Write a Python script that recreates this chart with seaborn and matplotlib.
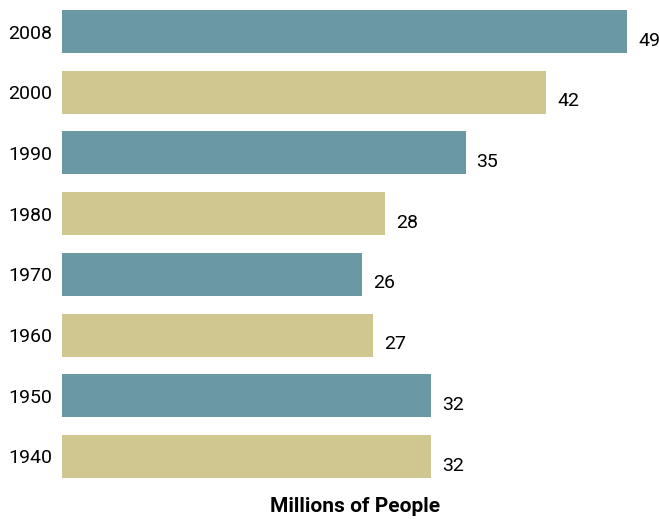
import matplotlib.pyplot as plt
import seaborn as sns
import pandas as pd

# Chart data, top to bottom.
years = ["2008", "2000", "1990", "1980", "1970", "1960", "1950", "1940"]
millions = [49, 42, 35, 28, 26, 27, 32, 32]
bar_colors = ["#6a98a3", "#cfc690"] * 4

sns.set_style("white")
plt.rcParams['font.family'] = ['Roboto', 'DejaVu Sans']

df = pd.DataFrame({"year": years, "millions": millions})

fig = plt.figure(figsize=(6.59, 5.19), dpi=100)
ax = fig.add_axes([62 / 659, 1 - 478 / 519, (627 - 62) / 659, 468 / 519])

sns.barplot(data=df, x="millions", y="year", hue="year", order=years,
            hue_order=years, palette=bar_colors, legend=False,
            width=0.71, saturation=1, linewidth=0, ax=ax)

ax.set_xlim(0, 49)
ax.set_ylim(len(years) - 1 + 0.355, -0.355)

# Value labels to the right of each bar.
for i, v in enumerate(millions):
    ax.text(v + 0.95, i + 0.15, str(v), va="center", ha="left",
            fontsize=14, color="black", clip_on=False)

ax.set_xlabel("")
ax.set_ylabel("")
ax.set_xticks([])
ax.tick_params(axis="y", length=0, pad=7, labelsize=14, labelcolor="black")
sns.despine(ax=ax, left=True, bottom=True)

fig.text(355 / 659, 1 - 507 / 519, "Millions of People", ha="center",
         va="center", fontsize=15, fontweight="bold", color="black")

fig.savefig("out.png", dpi=100)
